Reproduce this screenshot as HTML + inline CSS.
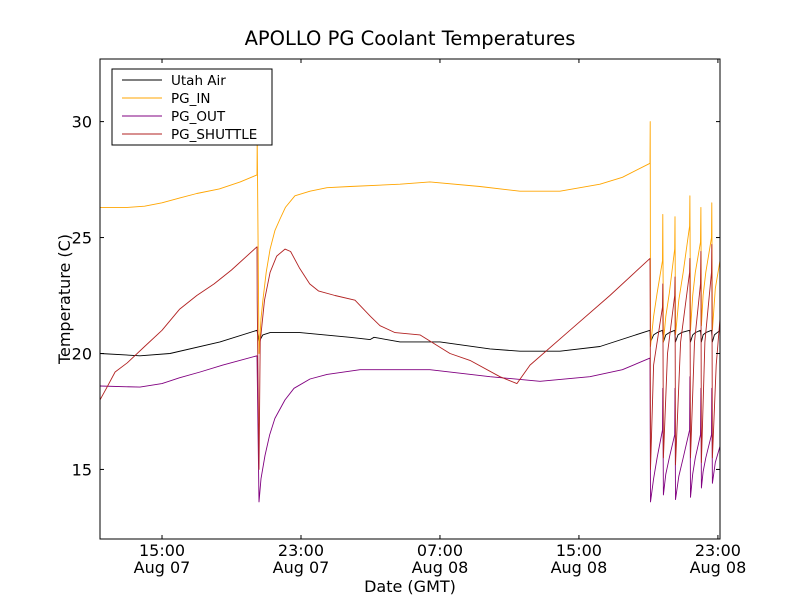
<!DOCTYPE html>
<html><head><meta charset="utf-8"><style>
body{margin:0;background:#fff;font-family:"Liberation Sans","DejaVu Sans",sans-serif}
svg text{font-family:"DejaVu Sans","Liberation Sans",sans-serif}
</style></head><body>
<svg id="c" width="800" height="600" xmlns="http://www.w3.org/2000/svg"></svg>
<script>
const tickHours=[15,23,31,39,47];
const tickTimes=["15:00","23:00","07:00","15:00","23:00"];
const tickDates=["Aug 07","Aug 07","Aug 08","Aug 08","Aug 08"];
const yTicks=[15,20,25,30];
const seriesNames=["Utah Air","PG_IN","PG_OUT","PG_SHUTTLE"];
const seriesColors=["#000000","#ffa500","#800080","#b22222"];
const utahT=[11.43,13.73,15.46,18.34,20.47,20.58,20.8,21.22,22.94,25.82,26.97,27.2,28.7,31.0,33.88,35.6,37.91,40.21,43.09,43.12,43.3,43.5,43.81,43.86,44.0,44.2,44.51,44.56,44.7,44.9,45.37,45.42,45.55,45.7,46.0,46.05,46.15,46.3,46.63,46.68,46.8,47.12];
const utahV=[20.0,19.9,20.0,20.5,21.0,20.5,20.8,20.9,20.9,20.7,20.6,20.7,20.5,20.5,20.2,20.1,20.1,20.3,21.0,20.5,20.8,20.9,21.0,20.5,20.8,20.9,21.0,20.5,20.8,20.9,21.0,20.5,20.8,20.9,21.0,20.5,20.8,20.9,21.0,20.5,20.8,21.0];
const inT=[11.43,13.0,14.0,15.0,16.0,17.0,18.3,19.5,20.47,20.48,20.58,20.7,20.81,21.0,21.22,21.5,21.79,22.1,22.65,23.52,24.5,25.82,28.7,30.42,33.3,35.6,37.91,40.21,41.5,43.09,43.1,43.12,43.3,43.5,43.81,43.83,43.86,44.0,44.2,44.51,44.53,44.56,44.75,45.0,45.37,45.39,45.42,45.55,45.7,46.0,46.02,46.05,46.15,46.3,46.63,46.65,46.68,46.85,47.12];
const inV=[26.3,26.3,26.35,26.5,26.7,26.9,27.1,27.4,27.7,29.3,20.0,21.5,22.3,23.5,24.5,25.3,25.8,26.3,26.8,27.0,27.15,27.2,27.3,27.4,27.2,27.0,27.0,27.3,27.6,28.2,30.0,20.3,21.6,22.6,24.0,26.0,20.5,21.6,22.6,24.5,25.9,20.8,22.3,23.5,25.5,26.8,21.0,22.5,23.5,24.8,26.3,21.2,22.5,23.5,25.0,26.5,21.0,22.8,24.0];
const outT=[11.43,13.73,15.0,16.0,17.19,18.5,20.47,20.58,20.7,20.93,21.2,21.5,22.08,22.6,23.52,24.5,26.4,30.42,33.88,36.76,39.63,41.5,43.09,43.12,43.3,43.5,43.81,43.83,43.86,44.0,44.2,44.51,44.53,44.56,44.75,45.0,45.37,45.39,45.42,45.55,45.7,46.0,46.02,46.05,46.15,46.3,46.63,46.65,46.68,46.85,47.12];
const outV=[18.6,18.55,18.7,18.95,19.2,19.5,19.9,13.6,14.6,15.6,16.5,17.2,18.0,18.5,18.9,19.1,19.3,19.3,19.0,18.8,19.0,19.3,19.8,13.6,14.6,15.5,16.7,18.5,13.9,14.8,15.5,16.5,18.5,13.7,14.7,15.5,16.7,19.0,13.8,14.8,15.5,16.5,18.5,14.2,14.9,15.5,16.5,18.5,14.4,15.3,16.0];
const shT=[11.43,11.8,12.3,13.0,14.0,15.0,16.0,17.0,18.0,19.0,20.47,20.48,20.58,20.65,20.9,21.22,21.6,22.08,22.4,22.9,23.5,24.0,24.96,26.11,27.0,27.55,28.41,29.85,31.58,32.73,34.45,35.43,36.18,38.48,40.78,43.09,43.1,43.12,43.3,43.81,43.83,43.86,44.1,44.51,44.53,44.56,44.85,45.37,45.39,45.42,45.65,46.0,46.02,46.05,46.25,46.63,46.65,46.68,46.9,47.12];
const shV=[18.0,18.5,19.2,19.6,20.3,21.0,21.9,22.5,23.0,23.6,24.6,22.3,15.0,20.5,22.3,23.5,24.2,24.5,24.4,23.7,23.0,22.7,22.5,22.3,21.6,21.2,20.9,20.8,20.0,19.7,19.0,18.7,19.5,21.0,22.5,24.1,22.0,15.0,19.5,22.0,23.0,15.5,20.0,22.5,23.3,15.2,20.5,23.5,24.1,15.5,20.5,23.0,24.4,15.3,20.5,23.5,24.7,15.5,19.5,21.5];
const X0=100,X1=720,Y0=59,Y1=539,HMIN=11.43,HMAX=47.12,VMIN=12,VMAX=32.7;
const sx=h=>X0+(h-HMIN)/(HMAX-HMIN)*(X1-X0);
const sy=v=>Y1-(v-VMIN)/(VMAX-VMIN)*(Y1-Y0);
const svg=document.getElementById('c');const NS="http://www.w3.org/2000/svg";
function mk(t,a,p){const e=document.createElementNS(NS,t);for(const k in a)e.setAttribute(k,a[k]);(p||svg).appendChild(e);return e;}
const clip=mk('clipPath',{id:'pc'});mk('rect',{x:X0,y:Y0,width:X1-X0,height:Y1-Y0},clip);
const data=[[utahT,utahV],[inT,inV],[outT,outV],[shT,shV]];
data.forEach((d,i)=>{
 const p=mk('polyline',{points:d[0].map((t,j)=>sx(t).toFixed(1)+','+sy(d[1][j]).toFixed(1)).join(' '),fill:'none',stroke:seriesColors[i],'stroke-width':0.9,'stroke-linejoin':'round','clip-path':'url(#pc)'});
 
 
});
const fr=mk('rect',{x:X0,y:Y0,width:X1-X0,height:Y1-Y0,fill:'none',stroke:'#000','stroke-width':1});


yTicks.forEach(v=>{const y=sy(v);
 mk('line',{x1:X0,x2:X0+4,y1:y,y2:y,stroke:'#000'});mk('line',{x1:X1-4,x2:X1,y1:y,y2:y,stroke:'#000'});
 const t=mk('text',{x:X0-8,y:y+6,'text-anchor':'end','font-size':16});t.textContent=v;
 
 });
tickHours.forEach((h,i)=>{const x=sx(h);
 mk('line',{x1:x,x2:x,y1:Y1,y2:Y1-4,stroke:'#000'});mk('line',{x1:x,x2:x,y1:Y0,y2:Y0+4,stroke:'#000'});
 const t=mk('text',{x:x,y:556,'text-anchor':'middle','font-size':16});t.textContent=tickTimes[i];
 
 
 const d=mk('text',{x:x,y:573,'text-anchor':'middle','font-size':16});d.textContent=tickDates[i];
 
 });
const ti=mk('text',{x:410,y:45,'text-anchor':'middle','font-size':19.5});ti.textContent="APOLLO PG Coolant Temperatures";


const xl=mk('text',{x:410,y:592,'text-anchor':'middle','font-size':16});xl.textContent="Date (GMT)";


const yl=mk('text',{x:0,y:0,'text-anchor':'middle','font-size':16,transform:'translate(70,299) rotate(-90)'});yl.textContent="Temperature (C)";


const lg=mk('g',{});
mk('rect',{x:112,y:69,width:160,height:76,fill:'#fff',stroke:'#000'},lg);
seriesNames.forEach((n,i)=>{const y=80+i*18;
 mk('line',{x1:122,x2:162,y1:y,y2:y,stroke:seriesColors[i],'stroke-width':0.9},lg);
 const t=mk('text',{x:171,y:y+5,'font-size':13.5},lg);t.textContent=n;
 
 });
</script>
</body></html>
